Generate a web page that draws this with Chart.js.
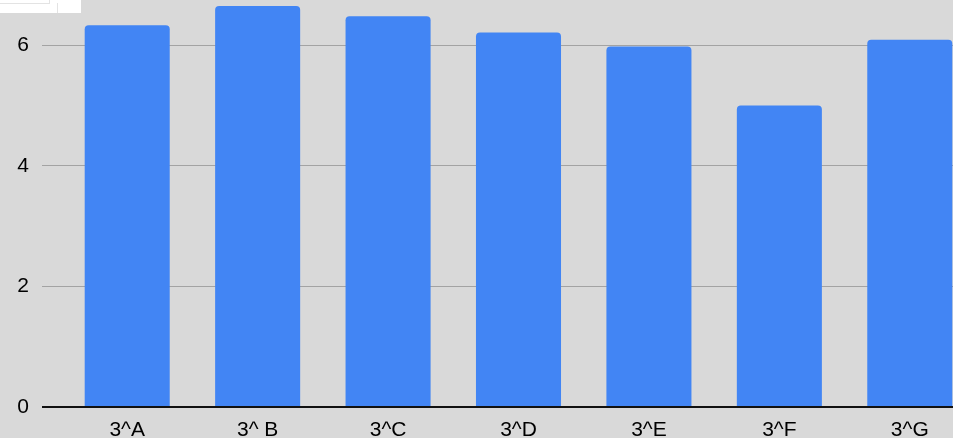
<!DOCTYPE html>
<html>
<head>
<meta charset="utf-8">
<script src="https://cdn.jsdelivr.net/npm/chart.js@4.4.0/dist/chart.umd.min.js"></script>
<style>
    html, body { margin: 0; padding: 0; overflow: hidden; background: #d9d9d9; }
    #wrap { position: relative; width: 975px; height: 438px; }
    #corner {
        position: absolute; left: 0; top: 0; width: 81px; height: 13px;
        background: #fff;
    }
    #corner .h { position: absolute; left: 0; top: 3px; width: 49px; height: 1px; background: #e3e3e3; }
    #corner .v1 { position: absolute; left: 49px; top: 0; width: 1px; height: 4px; background: #e3e3e3; }
    #corner .v2 { position: absolute; left: 57px; top: 3px; width: 1px; height: 10px; background: #e3e3e3; }
</style>
</head>
<body>
<div id="wrap">
    <canvas id="chart"></canvas>
    <div id="corner"><div class="h"></div><div class="v1"></div><div class="v2"></div></div>
</div>
<script>
// Chart data
const categories = ['3^A', '3^ B', '3^C', '3^D', '3^E', '3^F', '3^G'];
const values = [6.33, 6.65, 6.48, 6.21, 5.98, 5.0, 6.09];
const yTicks = [0, 2, 4, 6];

document.addEventListener('DOMContentLoaded', function() {
    initializeChart();
});

function initializeChart() {
    new Chart(document.getElementById('chart'), {
        type: 'bar',
        data: {
            labels: categories,
            datasets: [{
                data: values,
                backgroundColor: '#4285f4',
                borderRadius: { topLeft: 4, topRight: 4 },
                borderSkipped: 'bottom',
                barPercentage: 0.652,
                categoryPercentage: 1
            }]
        },
        options: {
            responsive: true,
            maintainAspectRatio: false,
            animation: false,
            layout: { padding: 0 },
            plugins: {
                legend: { display: false },
                tooltip: { enabled: false }
            },
            scales: {
                x: {
                    grid: { display: false, drawTicks: false },
                    border: { display: false },
                    ticks: {
                        color: '#000',
                        padding: 11,
                        font: { family: 'Liberation Sans, Arial, sans-serif', size: 21 }
                    },
                    afterFit: function(scale) { scale.height = 31; }
                },
                y: {
                    min: 0,
                    max: 6.75,
                    afterBuildTicks: function(scale) {
                        scale.ticks = yTicks.map(v => ({ value: v }));
                    },
                    border: { display: false },
                    grid: {
                        drawTicks: true,
                        tickLength: 20,
                        color: ctx => ctx.tick && ctx.tick.value === 0 ? '#111' : '#a3a3a3',
                        lineWidth: ctx => ctx.tick && ctx.tick.value === 0 ? 2 : 1
                    },
                    ticks: {
                        color: '#000',
                        padding: 13,
                        font: { family: 'Liberation Sans, Arial, sans-serif', size: 21 }
                    },
                    afterFit: function(scale) {
                        scale.width = 62;
                        scale.paddingTop = 0;
                        scale.paddingBottom = 0;
                    }
                }
            }
        }
    });
}
</script>
</body>
</html>
